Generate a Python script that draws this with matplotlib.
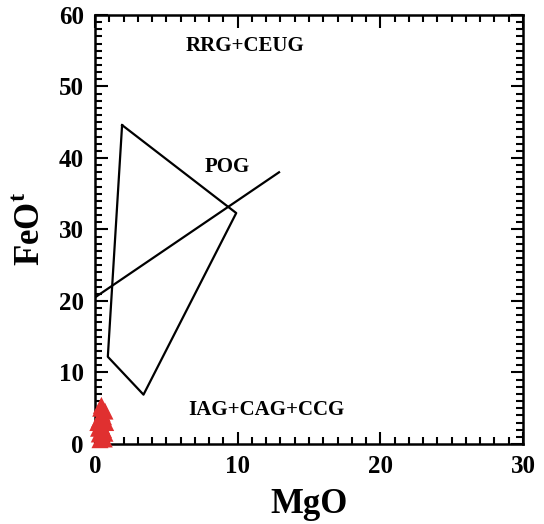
import matplotlib
matplotlib.use("Agg")
import matplotlib.pyplot as plt
from matplotlib.ticker import MultipleLocator

plt.rcParams['font.family'] = ['Liberation Serif', 'DejaVu Serif']
plt.rcParams['font.weight'] = 'bold'
plt.rcParams['mathtext.fontset'] = 'custom'
plt.rcParams['mathtext.rm'] = 'Liberation Serif'

# Field boundary: POG polygon (MgO, FeOt)
poly_mgo = [1.9, 9.9, 3.4, 0.9, 1.9]
poly_feo = [44.6, 32.3, 6.9, 12.2, 44.6]
# RRG+CEUG / IAG+CAG+CCG dividing line
line_mgo = [0.0, 12.9]
line_feo = [20.5, 38.0]

# Samples
sample_mgo = [0.35, 0.55, 0.7, 0.25, 0.45, 0.75, 0.3, 0.6, 0.2, 0.5, 0.7, 0.4, 0.45, 0.6, 0.65, 0.3]
sample_feo = [0.6, 1.0, 1.5, 2.2, 2.6, 3.0, 3.4, 3.8, 3.0, 4.3, 4.6, 5.0, 5.4, 2.0, 0.7, 1.4]

labels = [("RRG+CEUG", 10.5, 55.7), ("POG", 9.3, 38.7), ("IAG+CAG+CCG", 12.0, 4.8)]

fig = plt.figure(figsize=(5.44, 5.24), dpi=100)
ax = fig.add_axes([0.1746, 0.1527, 0.7868, 0.8187])

ax.plot(poly_mgo, poly_feo, color='black', lw=1.6)
ax.plot(line_mgo, line_feo, color='black', lw=1.6)
ax.scatter(sample_mgo, sample_feo, marker='^', s=150, color='#e03030', edgecolors='none', zorder=3, clip_on=False)

for t, x, y in labels:
    ax.text(x, y, t, fontsize=15, fontweight='bold', ha='center', va='center')

ax.set_xlim(0, 30)
ax.set_ylim(0, 60)
ax.xaxis.set_major_locator(MultipleLocator(10))
ax.xaxis.set_minor_locator(MultipleLocator(1))
ax.yaxis.set_major_locator(MultipleLocator(10))
ax.yaxis.set_minor_locator(MultipleLocator(1))
ax.tick_params(which='both', direction='in', top=True, right=True, width=1.5)
ax.tick_params(which='major', length=9, labelsize=18, pad=8)
ax.tick_params(which='minor', length=5)
for s in ax.spines.values():
    s.set_linewidth(1.8)

ax.set_xlabel('MgO', fontsize=25, fontweight='bold', labelpad=7)
ax.set_ylabel('FeO$^{\\mathregular{t}}$', fontsize=25, fontweight='bold', labelpad=8)

fig.savefig('out.png', dpi=100)
